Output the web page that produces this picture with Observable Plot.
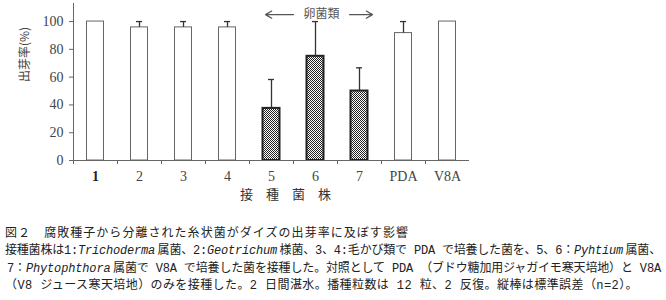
<!DOCTYPE html>
<html><head><meta charset="utf-8">
<script src="https://cdn.jsdelivr.net/npm/d3@7"></script>
<script src="https://cdn.jsdelivr.net/npm/@observablehq/plot@0.6"></script>
<style>
body{margin:0;background:#fff;}
#chart svg{display:block}
#caption{margin-top:13px}
.cap{font-family:"Noto Sans CJK JP",sans-serif;font-size:12px;color:#222;white-space:nowrap;height:17.3px;line-height:17.3px;overflow:visible}
.cap > span{display:inline-block}
.cap i{font-family:"Liberation Mono",monospace;font-style:italic;font-size:12px}
.cap .m{font-family:"Liberation Mono",monospace;font-size:12px}
</style></head><body>
<div id="chart"></div>
<div id="caption">
<div class="cap" id="l1"><span>図２　腐敗種子から分離された糸状菌がダイズの出芽率に及ぼす影響</span></div>
<div class="cap" id="l2"><span>接種菌株は<span class="m">1:</span><i>Trichoderma</i> 属菌、<span class="m">2:</span><i>Geotrichum</i> 様菌、<span class="m">3</span>、<span class="m">4:</span>毛かび類で<span class="m"> PDA </span>で培養した菌を、<span class="m">5</span>、<span class="m">6</span>：<i>Pyhtium</i> 属菌、</span></div>
<div class="cap" id="l3"><span><span class="m">7</span>：<i>Phytophthora</i> 属菌で<span class="m"> V8A </span>で培養した菌を接種した。対照として<span class="m"> PDA </span>（ブドウ糖加用ジャガイモ寒天培地）と<span class="m"> V8A</span></span></div>
<div class="cap" id="l4"><span>（<span class="m">V8 </span>ジュース寒天培地）のみを接種した。<span class="m">2 </span>日間湛水。播種粒数は<span class="m"> 12 </span>粒、<span class="m">2 </span>反復。縦棒は標準誤差（<span class="m">n=2</span>）。</span></div>
</div>
<script>
const strains = ["1","2","3","4","5","6","7","PDA","V8A"];
const emergence = [100, 95.8, 95.8, 95.8, 37.5, 75, 50, 91.7, 100];
const stdErr = [0, 4.2, 4.2, 4.2, 20.8, 25, 16.7, 8.3, 0];
const oomycete = [false,false,false,false,true,true,true,false,false];
const yTicks = [0,20,40,60,80,100];
const groupLabel = "卵菌類";
const groupLevel = 105;
const xLabel = "接　種　菌　株";
const yLabel = "出芽率(%)";

const data = strains.map((s,i)=>({strain:s, value:emergence[i], se:stdErr[i], oo:oomycete[i]}));
const serif = "'Liberation Serif','DejaVu Serif',serif";
const cjk = "'Noto Sans CJK JP',sans-serif";
const withErr = data.filter(d=>d.se>0);
const oo = data.filter(d=>d.oo);

const chart = Plot.plot({
  width:666, height:210, marginLeft:73, marginRight:197, marginTop:3, marginBottom:50,
  style:{fontFamily:serif, fontSize:"14px", color:"#444", background:"#fff"},
  x:{domain:strains, padding:0, axis:null},
  y:{domain:[0,113], axis:null},
  marks:[
    Plot.barY(data.filter(d=>!d.oo), {x:"strain", y:"value", fill:"white", stroke:"#666", strokeWidth:1, insetLeft:13.5, insetRight:13.5}),
    Plot.barY(oo, {x:"strain", y:"value", fill:"url(#checker)", stroke:"#222", strokeWidth:2, insetLeft:13.5, insetRight:13.5}),
    Plot.ruleX(withErr, {x:"strain", y1:"value", y2:d=>d.value+d.se, stroke:"#333", strokeWidth:1.3}),
    Plot.tickY(withErr, {x:"strain", y:d=>d.value+d.se, stroke:"#333", strokeWidth:1.3, insetLeft:19, insetRight:19}),
    Plot.ruleY([0], {stroke:"#666"}),
    Plot.ruleX([strains[0]], {x:d=>d, dx:-22, stroke:"#666"}),
    Plot.axisY({ticks:yTicks, tickSize:4, tickPadding:6, stroke:"#666", fill:"#444", label:null}),
    Plot.axisX({tickSize:4, tickFormat:()=>"", dx:-22, stroke:"#666", label:null}),
    Plot.text(data.filter(d=>d.strain==="1"), {x:"strain", text:"strain", frameAnchor:"bottom", dy:20, fontWeight:"bold", fill:"#222"}),
    Plot.text(data.filter(d=>d.strain!=="1"), {x:"strain", text:"strain", frameAnchor:"bottom", dy:20, fill:"#444"}),
    Plot.text([xLabel], {frameAnchor:"bottom", dy:38, dx:14, fontFamily:cjk, fontSize:13, fill:"#333"}),
    Plot.text([yLabel], {frameAnchor:"left", rotate:-90, dx:-48, fontFamily:cjk, fontSize:12, fill:"#444"}),
    // group annotation: text over the middle oomycete strain, arrows pointing outward
    Plot.text([groupLabel], {x:()=>oo[1].strain, y:()=>groupLevel, dx:6, fontFamily:cjk, fontSize:12, fill:"#555"}),
    Plot.arrow([0], {x1:()=>oo[1].strain, x2:()=>oo[0].strain, y1:()=>groupLevel, y2:()=>groupLevel, insetStart:22, insetEnd:-6, bend:0, headLength:9, stroke:"#555", strokeWidth:1.2}),
    Plot.arrow([0], {x1:()=>oo[1].strain, x2:()=>oo[2].strain, y1:()=>groupLevel, y2:()=>groupLevel, insetStart:34, insetEnd:-13, bend:0, headLength:9, stroke:"#555", strokeWidth:1.2})
  ]
});
const defs = d3.select(chart).insert("defs", ":first-child");
const p = defs.append("pattern").attr("id","checker").attr("width",2).attr("height",2).attr("patternUnits","userSpaceOnUse");
p.append("rect").attr("width",2).attr("height",2).attr("fill","#fff");
p.append("rect").attr("width",1).attr("height",1).attr("fill","#222");
p.append("rect").attr("x",1).attr("y",1).attr("width",1).attr("height",1).attr("fill","#222");
document.getElementById("chart").appendChild(chart);

// fit caption lines to the reference line extents
const extents = {l1:[5,409], l2:[5,661], l3:[7,661], l4:[5,638]};
for (const [id,[x0,x1]] of Object.entries(extents)) {
  const line = document.getElementById(id);
  line.style.paddingLeft = x0 + "px";
  const inner = line.firstElementChild;
  const w = inner.getBoundingClientRect().width;
  const n = inner.textContent.length;
  line.style.letterSpacing = ((x1 - x0 - w) / n) + "px";
}
</script>
</body></html>
